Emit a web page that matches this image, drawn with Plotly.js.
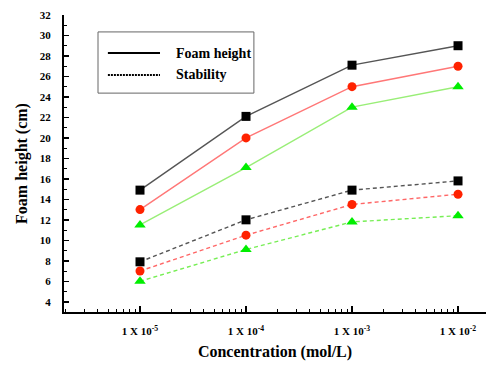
<!DOCTYPE html>
<html><head><meta charset="utf-8">
<script src="https://cdn.plot.ly/plotly-3.0.1.min.js"></script>
<style>body{margin:0;background:#fff}#c{width:486px;height:365px}</style>
</head><body><div id="c"></div>
<script>
const concentrations = [1e-5, 1e-4, 1e-3, 1e-2];
const tickLabels = ['1 X 10<sup>-5</sup>', '1 X 10<sup>-4</sup>', '1 X 10<sup>-3</sup>', '1 X 10<sup>-2</sup>'];
const foamBlack = [14.9, 22.1, 27.1, 29.0];
const foamRed = [13.0, 20.0, 25.0, 27.0];
const foamGreen = [11.5, 17.1, 23.0, 25.0];
const stabBlack = [7.9, 12.0, 14.9, 15.8];
const stabRed = [7.0, 10.5, 13.5, 14.5];
const stabGreen = [6.0, 9.1, 11.8, 12.4];
const legendNames = ['Foam height', 'Stability'];

const F = 'Liberation Serif, Times New Roman, serif';
function tr(y, lineColor, markColor, symbol, dash, size) {
  return {x: concentrations, y: y, type: 'scatter', mode: 'lines+markers', showlegend: false,
    line: {color: lineColor, width: 1.4, dash: dash},
    marker: {color: markColor, symbol: symbol, size: size}};
}
const data = [
  tr(foamBlack, '#555555', '#000000', 'square', 'solid', 9),
  tr(foamRed, '#ff7777', '#ff2200', 'circle', 'solid', 9),
  tr(foamGreen, '#99ee77', '#00ee00', 'triangle-up', 'solid', 10),
  tr(stabBlack, '#555555', '#000000', 'square', '4px,3px', 9),
  tr(stabRed, '#ff6666', '#ff2200', 'circle', '4px,3px', 9),
  tr(stabGreen, '#77ee55', '#00ee00', 'triangle-up', '4px,3px', 10)
];
const layout = {
  width: 486, height: 365,
  margin: {l: 64, r: 0, t: 15, b: 53},
  paper_bgcolor: '#fff', plot_bgcolor: '#fff',
  font: {family: F, color: '#000'},
  xaxis: {type: 'log', range: [-5.717, -1.736], showgrid: false, zeroline: false,
    showline: true, linecolor: '#000', linewidth: 2,
    tickmode: 'array', tickvals: concentrations, ticktext: tickLabels,
    ticks: 'inside', ticklen: 6, tickwidth: 1.5, tickcolor: '#000',
    tickfont: {family: F, size: 11, weight: 'bold', color: '#000'}, ticklabelstandoff: 8,
    minor: {ticks: 'inside', ticklen: 3, tickwidth: 1, tickcolor: '#000', dtick: 'D1'},
    title: {text: 'Concentration (mol/L)', font: {family: F, size: 16, weight: 'bold', color: '#000'}, standoff: 10}},
  yaxis: {range: [3, 32], showgrid: false, zeroline: false,
    showline: true, linecolor: '#000', linewidth: 2,
    tickmode: 'linear', tick0: 4, dtick: 2,
    ticks: 'inside', ticklen: 5, tickwidth: 1.5, tickcolor: '#000',
    tickfont: {family: F, size: 11, weight: 'bold', color: '#000'}, ticklabelstandoff: 9,
    minor: {ticks: 'inside', ticklen: 3, tickwidth: 1, tickcolor: '#000', dtick: 1},
    title: {text: 'Foam height (cm)', font: {family: F, size: 16, weight: 'bold', color: '#000'}, standoff: 8}},
  shapes: [
    {type: 'rect', xref: 'paper', yref: 'paper', x0: 0.0806, x1: 0.450, y0: 0.737, y1: 0.943,
      line: {color: '#666', width: 1}, fillcolor: 'rgba(0,0,0,0)'},
    {type: 'line', xref: 'paper', yref: 'paper', x0: 0.104, x1: 0.2275, y0: 0.872, y1: 0.872,
      line: {color: '#000', width: 1.8}},
    {type: 'line', xref: 'paper', yref: 'paper', x0: 0.104, x1: 0.2275, y0: 0.798, y1: 0.798,
      line: {color: '#000', width: 1.8, dash: '2px,1px'}}
  ],
  annotations: [
    {xref: 'paper', yref: 'paper', x: 0.261, y: 0.872, xanchor: 'left', yanchor: 'middle', showarrow: false,
      text: legendNames[0], font: {family: F, size: 14, weight: 'bold', color: '#000'}},
    {xref: 'paper', yref: 'paper', x: 0.261, y: 0.798, xanchor: 'left', yanchor: 'middle', showarrow: false,
      text: legendNames[1], font: {family: F, size: 14, weight: 'bold', color: '#000'}}
  ]
};
Plotly.newPlot('c', data, layout, {displayModeBar: false, staticPlot: true});
</script></body></html>
